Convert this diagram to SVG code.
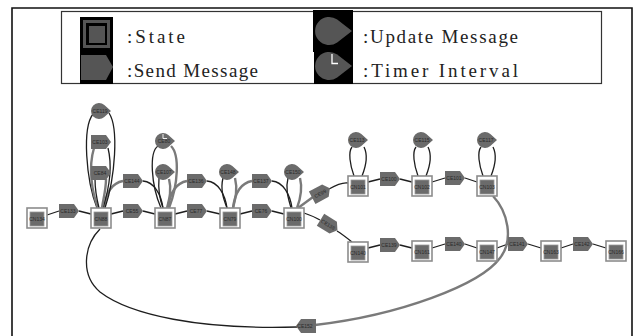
<svg xmlns="http://www.w3.org/2000/svg" xmlns:xlink="http://www.w3.org/1999/xlink" width="639" height="336" viewBox="0 0 639 336">
  <style>
    .frame { fill: none; stroke: #111; stroke-width: 1.6; }
    .legend-box { fill: #fff; stroke: #333; stroke-width: 1.2; }
    .legend-text { font-family: "Liberation Serif", "Times New Roman", serif; font-size: 19px; fill: #222; }
    .st-o { fill: #fff; stroke: #8c8c8c; stroke-width: 1.6; }
    .st-i { fill: #6b6b6b; stroke: #9a9a9a; stroke-width: 0.8; }
    .msg { fill: #6b6b6b; }
    .lbl { font-family: "Liberation Sans", Arial, sans-serif; font-size: 5px; fill: #2a2a2a; text-anchor: middle; }
    .e-k { fill: none; stroke: #1e1e1e; stroke-width: 1.3; }
    .e-g { fill: none; stroke: #7a7a7a; stroke-width: 2.4; }
  </style>
  <defs>
    <g id="state">
      <rect class="st-o" x="-10" y="-10" width="20" height="20"/>
      <rect class="st-i" x="-7" y="-6" width="14" height="14"/>
    </g>
    <polygon id="send" class="msg" points="-10,-7 5,-7 10,0 5,7 -10,7"/>
    <path id="update" class="msg" d="M10,0 L3.33,-5.96 A8,8 0 1,0 3.33,5.96 Z"/>
    <g id="timer">
      <use xlink:href="#update"/>
      <path d="M-2,-7 V-2.5 H2" fill="none" stroke="#fff" stroke-width="0.9"/>
    </g>
  </defs>

  <!-- outer frame -->
  <path class="frame" d="M12,340 V8 H632 V340"/>

  <!-- legend -->
  <g id="legend">
    <rect class="legend-box" x="61.5" y="11.5" width="540" height="72"/>
    <rect x="80" y="17" width="33" height="67" fill="#000"/>
    <rect x="84.5" y="21.5" width="24" height="25" fill="none" stroke="#555" stroke-width="3"/>
    <rect x="89" y="26" width="16" height="17" fill="#555"/>
    <polygon points="81,55 106,55 113,67 106,80 81,80" fill="#555"/>
    <text class="legend-text" x="127" y="43" textLength="58" lengthAdjust="spacing">:State</text>
    <text class="legend-text" x="127" y="77" textLength="131" lengthAdjust="spacing">:Send Message</text>
    <rect x="313" y="10" width="40" height="42" fill="#000"/>
    <rect x="314" y="51" width="39" height="33" fill="#000"/>
    <path d="M352,31 L337.2,19.6 A14,14 0 1,0 337.2,42.4 Z" fill="#555"/>
    <path d="M352,66 L337.2,54.6 A14,14 0 1,0 337.2,77.4 Z" fill="#555"/>
    <path d="M332,54 V63.5 H338" fill="none" stroke="#fff" stroke-width="1.3"/>
    <text class="legend-text" x="363" y="43" textLength="155" lengthAdjust="spacing">:Update Message</text>
    <text class="legend-text" x="363" y="77" textLength="155" lengthAdjust="spacing">:Timer Interval</text>
  </g>

  <!-- connectors -->
  <g id="connectors">
    <!-- main chain -->
    <path class="e-k" d="M47,215 L59,211"/>
    <path class="e-k" d="M79,211 L91,214"/>
    <path class="e-k" d="M111,214 L123,211"/>
    <path class="e-k" d="M143,211 L155,214"/>
    <path class="e-k" d="M175,214 L187,211"/>
    <path class="e-k" d="M207,211 L220,214"/>
    <path class="e-k" d="M240,214 L252,211"/>
    <path class="e-k" d="M272,211 L284,214"/>
    <!-- upper branch -->
    <path class="e-k" d="M368,182 L380,179"/>
    <path class="e-k" d="M400,179 L412,182"/>
    <path class="e-k" d="M432,182 L445,178"/>
    <path class="e-k" d="M465,178 L477,182"/>
    <!-- lower branch -->
    <path class="e-k" d="M368,248 L380,245"/>
    <path class="e-k" d="M400,245 L412,248"/>
    <path class="e-k" d="M432,248 L445,244"/>
    <path class="e-k" d="M465,244 L477,248"/>
    <path class="e-k" d="M497,248 L508,244"/>
    <path class="e-k" d="M528,244 L541,248"/>
    <path class="e-k" d="M561,248 L573,244"/>
    <path class="e-k" d="M593,244 L606,248"/>
    <!-- arcs over the chain -->
    <path class="e-g" d="M104,208 C106,192 112,183 123,181"/>
    <path class="e-k" d="M143,181 C154,182 161,194 163,208"/>
    <path class="e-g" d="M168,208 C170,192 176,183 187,181"/>
    <path class="e-k" d="M207,181 C218,182 225,194 227,208"/>
    <path class="e-g" d="M233,208 C235,192 241,183 252,181"/>
    <path class="e-k" d="M272,181 C283,182 290,194 292,208"/>
    <!-- fork at CN100 -->
    <path class="e-g" d="M298,208 L313,197"/>
    <path class="e-k" d="M329,189 C336,185 342,182 348,183"/>
    <path class="e-k" d="M304,213 C310,215 315,217 320,220"/>
    <path class="e-k" d="M337,231 C342,234 347,238 352,242"/>
    <!-- loops at CN88 -->
    <path class="e-k" d="M97,208 C86,180 82,128 93,114"/>
    <path class="e-k" d="M109,113 C119,128 115,178 105,208"/>
    <path class="e-g" d="M94,148 C88,168 92,192 98,208"/>
    <path class="e-k" d="M108,148 C113,168 108,192 103,208"/>
    <path class="e-k" d="M95,179 C95,190 97,200 99,208"/>
    <path class="e-g" d="M106,179 C106,190 103,200 102,208"/>
    <!-- loops at CN87 -->
    <path class="e-k" d="M161,208 C151,185 149,152 158,146"/>
    <path class="e-g" d="M171,146 C180,155 178,185 169,208"/>
    <path class="e-k" d="M159,178 C158,190 160,200 163,208"/>
    <path class="e-g" d="M169,179 C172,190 169,200 167,208"/>
    <!-- loop at CN79 -->
    <path class="e-k" d="M223,178 C220,190 224,200 227,208"/>
    <path class="e-g" d="M235,178 C238,190 235,200 233,208"/>
    <!-- loop at CN100 -->
    <path class="e-k" d="M288,178 C285,190 289,200 291,208"/>
    <path class="e-g" d="M300,178 C303,190 300,200 297,208"/>
    <!-- loops on the upper branch -->
    <path class="e-k" d="M354,176 C350,165 348,152 352,147"/>
    <path class="e-k" d="M364,147 C368,155 366,166 362,176"/>
    <path class="e-k" d="M418,176 C414,165 412,152 416,147"/>
    <path class="e-k" d="M428,147 C432,155 430,166 426,176"/>
    <path class="e-k" d="M483,176 C479,165 477,152 481,147"/>
    <path class="e-k" d="M493,147 C497,155 495,166 491,176"/>
    <!-- long return path -->
    <path class="e-g" d="M493,196 C508,212 514,240 500,258 C480,285 400,315 315,325"/>
    <path class="e-k" d="M297,327 C200,330 130,315 100,292 C80,275 84,245 100,229"/>
  </g>

  <!-- states -->
  <g id="CN134"><use xlink:href="#state" x="37" y="218"/><text class="lbl" x="37" y="221">CN134</text></g>
  <g id="CN88"><use xlink:href="#state" x="101" y="218"/><text class="lbl" x="101" y="221">CN88</text></g>
  <g id="CN87"><use xlink:href="#state" x="165" y="218"/><text class="lbl" x="165" y="221">CN87</text></g>
  <g id="CN79"><use xlink:href="#state" x="230" y="218"/><text class="lbl" x="230" y="221">CN79</text></g>
  <g id="CN100"><use xlink:href="#state" x="294" y="218"/><text class="lbl" x="294" y="221">CN100</text></g>
  <g id="CN101"><use xlink:href="#state" x="358" y="186"/><text class="lbl" x="358" y="189">CN101</text></g>
  <g id="CN102"><use xlink:href="#state" x="422" y="186"/><text class="lbl" x="422" y="189">CN102</text></g>
  <g id="CN103"><use xlink:href="#state" x="487" y="186"/><text class="lbl" x="487" y="189">CN103</text></g>
  <g id="CN140"><use xlink:href="#state" x="358" y="252"/><text class="lbl" x="358" y="255">CN140</text></g>
  <g id="CN161"><use xlink:href="#state" x="422" y="251"/><text class="lbl" x="422" y="254">CN161</text></g>
  <g id="CN147"><use xlink:href="#state" x="487" y="251"/><text class="lbl" x="487" y="254">CN147</text></g>
  <g id="CN163"><use xlink:href="#state" x="551" y="251"/><text class="lbl" x="551" y="254">CN163</text></g>
  <g id="CN166"><use xlink:href="#state" x="616" y="251"/><text class="lbl" x="616" y="254">CN166</text></g>

  <!-- send messages -->
  <g id="CE133"><use xlink:href="#send" x="69" y="211"/><text class="lbl" x="68" y="213">CE133</text></g>
  <g id="CE55"><use xlink:href="#send" x="133" y="211"/><text class="lbl" x="132" y="213">CE55</text></g>
  <g id="CE77"><use xlink:href="#send" x="197" y="211"/><text class="lbl" x="196" y="213">CE77</text></g>
  <g id="CE76"><use xlink:href="#send" x="262" y="211"/><text class="lbl" x="261" y="213">CE76</text></g>
  <g id="CE144"><use xlink:href="#send" x="133" y="181"/><text class="lbl" x="132" y="183">CE144</text></g>
  <g id="CE136"><use xlink:href="#send" x="197" y="181"/><text class="lbl" x="196" y="183">CE136</text></g>
  <g id="CE137"><use xlink:href="#send" x="262" y="181"/><text class="lbl" x="261" y="183">CE137</text></g>
  <g id="CE103"><use xlink:href="#send" x="101" y="142"/><text class="lbl" x="100" y="144">CE103</text></g>
  <g id="CE84"><use xlink:href="#send" x="101" y="173"/><text class="lbl" x="100" y="175">CE84</text></g>
  <g id="CE99" transform="translate(321,193) rotate(-28)"><use xlink:href="#send"/><text class="lbl" x="-1" y="2">CE99</text></g>
  <g id="CE138" transform="translate(329,225) rotate(32)"><use xlink:href="#send"/><text class="lbl" x="-1" y="2">CE138</text></g>
  <g id="CE100"><use xlink:href="#send" x="390" y="179"/><text class="lbl" x="389" y="181">CE100</text></g>
  <g id="CE101"><use xlink:href="#send" x="455" y="178"/><text class="lbl" x="454" y="180">CE101</text></g>
  <g id="CE139"><use xlink:href="#send" x="390" y="245"/><text class="lbl" x="389" y="247">CE139</text></g>
  <g id="CE140"><use xlink:href="#send" x="455" y="244"/><text class="lbl" x="454" y="246">CE140</text></g>
  <g id="CE141"><use xlink:href="#send" x="518" y="244"/><text class="lbl" x="517" y="246">CE141</text></g>
  <g id="CE142"><use xlink:href="#send" x="583" y="244"/><text class="lbl" x="582" y="246">CE142</text></g>
  <g id="CE152" transform="translate(306,326) scale(-1,1)"><use xlink:href="#send"/><text class="lbl" x="-1" y="2" transform="scale(-1,1)">CE152</text></g>

  <!-- update messages -->
  <g id="CE119"><use xlink:href="#update" x="101" y="111"/><text class="lbl" x="100" y="113">CE119</text></g>
  <g id="CE107"><use xlink:href="#update" x="165" y="172"/><text class="lbl" x="164" y="174">CE107</text></g>
  <g id="CE148"><use xlink:href="#update" x="229" y="172"/><text class="lbl" x="228" y="174">CE148</text></g>
  <g id="CE150"><use xlink:href="#update" x="294" y="172"/><text class="lbl" x="293" y="174">CE150</text></g>
  <g id="CE113"><use xlink:href="#update" x="358" y="140"/><text class="lbl" x="357" y="142">CE113</text></g>
  <g id="CE115"><use xlink:href="#update" x="423" y="140"/><text class="lbl" x="422" y="142">CE115</text></g>
  <g id="CE117"><use xlink:href="#update" x="487" y="140"/><text class="lbl" x="486" y="142">CE117</text></g>

  <!-- timer interval -->
  <g id="CE80"><use xlink:href="#timer" x="165" y="141"/><text class="lbl" x="164" y="143">CE80</text></g>
</svg>
